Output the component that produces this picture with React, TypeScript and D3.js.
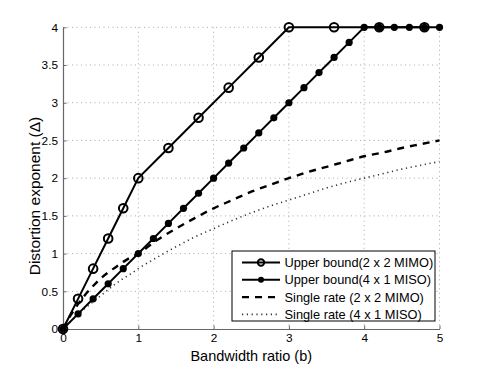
import React from "react";
import { scaleLinear, axisBottom, axisLeft, select, line, curveMonotoneX } from "d3";

// tick labels
const xTicks = [0, 1, 2, 3, 4, 5];
const yTicks = [0, 0.5, 1, 1.5, 2, 2.5, 3, 3.5, 4];

// Upper bound (2 x 2 MIMO) - open circles
const ub22X = [0, 0.2, 0.4, 0.6, 0.8, 1, 1.4, 1.8, 2.2, 2.6, 3, 3.6, 4.2, 4.8];
const ub22Y = [0, 0.4, 0.8, 1.2, 1.6, 2, 2.4, 2.8, 3.2, 3.6, 4, 4, 4, 4];

// Upper bound (4 x 1 MISO) - filled dots
const ub41X = [0, 0.2, 0.4, 0.6, 0.8, 1, 1.2, 1.4, 1.6, 1.8, 2, 2.2, 2.4, 2.6, 2.8, 3, 3.2, 3.4, 3.6, 3.8, 4, 4.2, 4.4, 4.6, 4.8, 5];
const ub41Y = [0, 0.2, 0.4, 0.6, 0.8, 1, 1.2, 1.4, 1.6, 1.8, 2, 2.2, 2.4, 2.6, 2.8, 3, 3.2, 3.4, 3.6, 3.8, 4, 4, 4, 4, 4, 4];

// single rate curves
const srX = [0, 0.1, 0.2, 0.3, 0.4, 0.5, 0.6, 0.7, 0.8, 0.9, 1, 1.25, 1.5, 1.75, 2, 2.25, 2.5, 2.75, 3, 3.25, 3.5, 3.75, 4, 4.25, 4.5, 4.75, 5];
const sr22Y = [0, 0.18, 0.33, 0.46, 0.57, 0.67, 0.75, 0.82, 0.89, 0.95, 1, 1.18, 1.33, 1.47, 1.6, 1.71, 1.82, 1.91, 2, 2.08, 2.15, 2.22, 2.29, 2.34, 2.4, 2.45, 2.5];
const sr41Y = [0, 0.1, 0.19, 0.28, 0.36, 0.44, 0.52, 0.6, 0.67, 0.73, 0.8, 0.95, 1.09, 1.22, 1.33, 1.44, 1.54, 1.63, 1.71, 1.79, 1.87, 1.94, 2, 2.06, 2.12, 2.17, 2.22];

const legendLabels = [
  "Upper bound(2 x 2 MIMO)",
  "Upper bound(4 x 1 MISO)",
  "Single rate (2 x 2 MIMO)",
  "Single rate (4 x 1 MISO)",
];

const FONT = "'Liberation Sans', Arial, Helvetica, sans-serif";

export default function App() {
  const width = 485;
  const height = 370;
  const margin = { top: 27.3, right: 45.5, bottom: 41, left: 63 };
  const innerWidth = width - margin.left - margin.right;
  const innerHeight = height - margin.top - margin.bottom;

  const xScale = scaleLinear().domain([0, 5]).range([0, innerWidth]);
  const yScale = scaleLinear().domain([0, 4]).range([innerHeight, 0]);

  const pts = (xs: number[], ys: number[]) => xs.map((x, i) => [x, ys[i]] as [number, number]);
  const straight = line<[number, number]>()
    .x((d) => xScale(d[0]))
    .y((d) => yScale(d[1]));
  const smooth = line<[number, number]>()
    .x((d) => xScale(d[0]))
    .y((d) => yScale(d[1]))
    .curve(curveMonotoneX);

  const xAxisRef = (el: SVGGElement | null) => {
    if (!el) return;
    const g = select(el).call(
      axisBottom(xScale).tickValues(xTicks).tickFormat((d) => String(d)).tickSizeInner(-3.5).tickSizeOuter(0).tickPadding(5)
    );
    g.select(".domain").attr("stroke", "#666").attr("stroke-width", 1.2);
    g.selectAll(".tick line").attr("stroke", "#666");
    g.selectAll("text").attr("font-family", FONT).attr("font-size", 11.8).attr("fill", "#000");
  };

  const yAxisRef = (el: SVGGElement | null) => {
    if (!el) return;
    const g = select(el).call(
      axisLeft(yScale).tickValues(yTicks).tickFormat((d) => String(d)).tickSizeInner(-3.5).tickSizeOuter(0).tickPadding(5)
    );
    g.select(".domain").attr("stroke", "#666").attr("stroke-width", 1.2);
    g.selectAll(".tick line").attr("stroke", "#666");
    g.selectAll("text").attr("font-family", FONT).attr("font-size", 11.8).attr("fill", "#000");
  };

  // legend
  const lg = { x: 232, y: 251, w: 203, h: 70 };
  const rowY = (i: number) => lg.y + 11.5 + i * 17.3;

  return (
    <svg width={width} height={height} style={{ position: "absolute", left: 0, top: 0, background: "#fff" }}>
      <g transform={`translate(${margin.left}, ${margin.top})`}>
        {/* grid */}
        {xTicks.filter((t) => t > 0).map((t) => (
          <line key={"gx" + t} x1={xScale(t)} x2={xScale(t)} y1={0} y2={innerHeight} stroke="#aaa" strokeDasharray="1,3.5" />
        ))}
        {yTicks.filter((t) => t > 0).map((t) => (
          <line key={"gy" + t} x1={0} x2={innerWidth} y1={yScale(t)} y2={yScale(t)} stroke="#aaa" strokeDasharray="1,3.5" />
        ))}

        <g ref={xAxisRef} transform={`translate(0, ${innerHeight})`} />
        <g ref={yAxisRef} />

        {/* single rate curves */}
        <path d={smooth(pts(srX, sr41Y)) || ""} fill="none" stroke="#333" strokeWidth={1.6} strokeDasharray="1.2,3.6" />
        <path d={smooth(pts(srX, sr22Y)) || ""} fill="none" stroke="#000" strokeWidth={2.4} strokeDasharray="7,6" />

        {/* upper bounds */}
        <path d={straight(pts(ub22X, ub22Y)) || ""} fill="none" stroke="#000" strokeWidth={2} />
        <path d={straight(pts(ub41X, ub41Y)) || ""} fill="none" stroke="#000" strokeWidth={2} />
        {ub22X.map((x, i) => (
          <circle key={"o" + i} cx={xScale(x)} cy={yScale(ub22Y[i])} r={4.3} fill="none" stroke="#000" strokeWidth={2} />
        ))}
        {ub41X.map((x, i) => (
          <circle key={"f" + i} cx={xScale(x)} cy={yScale(ub41Y[i])} r={3.6} fill="#000" />
        ))}
      </g>

      {/* legend */}
      <rect x={lg.x} y={lg.y} width={lg.w} height={lg.h} fill="#fff" stroke="#000" strokeWidth={1} />
      <line x1={lg.x + 10} x2={lg.x + 48} y1={rowY(0)} y2={rowY(0)} stroke="#000" strokeWidth={2} />
      <circle cx={lg.x + 29} cy={rowY(0)} r={3.2} fill="none" stroke="#000" strokeWidth={2} />
      <line x1={lg.x + 10} x2={lg.x + 48} y1={rowY(1)} y2={rowY(1)} stroke="#000" strokeWidth={2} />
      <circle cx={lg.x + 29} cy={rowY(1)} r={3} fill="#000" />
      <line x1={lg.x + 10} x2={lg.x + 48} y1={rowY(2)} y2={rowY(2)} stroke="#000" strokeWidth={2.4} strokeDasharray="7,6" />
      <line x1={lg.x + 10} x2={lg.x + 48} y1={rowY(3)} y2={rowY(3)} stroke="#333" strokeWidth={1.6} strokeDasharray="1.2,3.6" />
      {legendLabels.map((t, i) => (
        <text key={t} x={lg.x + 52.5} y={rowY(i)} dy="0.36em" fontFamily={FONT} fontSize={12.8} fill="#000">
          {t}
        </text>
      ))}

      {/* axis labels */}
      <text x={margin.left + innerWidth / 2} y={360.5} textAnchor="middle" fontFamily={FONT} fontSize={14.5} fill="#000">
        Bandwidth ratio (b)
      </text>
      <text transform={`translate(40, 196) rotate(-90)`} textAnchor="middle" fontFamily={FONT} fontSize={15.5} fill="#000">
        Distortion exponent (Δ)
      </text>
    </svg>
  );
}
